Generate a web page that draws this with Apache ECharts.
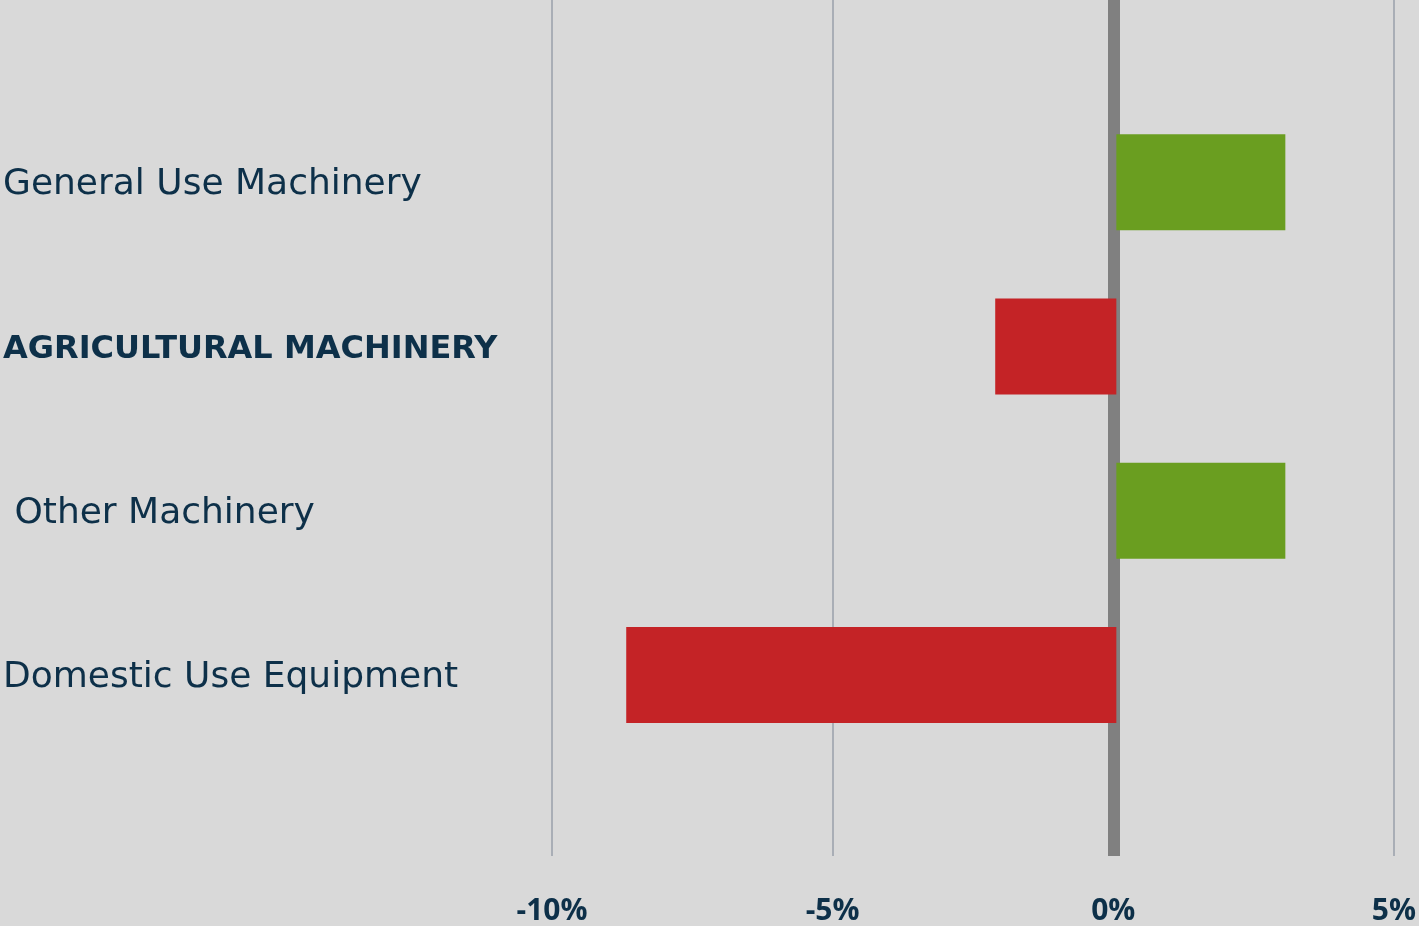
<!DOCTYPE html>
<html>
<head>
<meta charset="utf-8">
<script src="https://cdn.jsdelivr.net/npm/echarts@6/dist/echarts.min.js"></script>
<style>
html,body{margin:0;padding:0;background:#d9d9d9;}
#chart{width:1419px;height:926px;}
</style>
</head>
<body>
<div id="chart"></div>
<script>
const categories = ["General Use Machinery", "AGRICULTURAL MACHINERY", " Other Machinery", "Domestic Use Equipment"];
const boldCategory = "AGRICULTURAL MACHINERY";
const values = [3.0, -2.15, 3.0, -8.7];
const tickValues = [-10, -5, 0, 5];
const xMin = -10, xMax = 5, xInterval = 5;

const GREEN = '#6a9e20', RED = '#c42326', TEXT = '#0d3049';

const chart = echarts.init(document.getElementById('chart'));
const gridLeft = 552, gridRight = 21;
chart.setOption({
  backgroundColor: '#d9d9d9',
  animation: false,
  grid: [
    {left: gridLeft, right: gridRight, top: 0, bottom: 70},
    {left: gridLeft, right: gridRight, top: 100, height: 657}
  ],
  xAxis: [
    {gridIndex: 0, type: 'value', min: xMin, max: xMax, interval: xInterval,
     axisLine: {show: false}, axisTick: {show: false}, splitLine: {show: false},
     axisLabel: {margin: 40, color: TEXT, fontFamily: 'Open Sans', fontWeight: 'bold', fontSize: 30,
       formatter: v => v + '%'}},
    {gridIndex: 1, type: 'value', min: xMin, max: xMax, interval: xInterval, show: false}
  ],
  yAxis: [
    {gridIndex: 0, type: 'value', min: 0, max: 1, show: false},
    {gridIndex: 1, type: 'category', inverse: true, data: categories,
     axisLine: {show: false}, axisTick: {show: false}, splitLine: {show: false},
     axisLabel: {
       align: 'left', margin: gridLeft - 2, color: TEXT,
       fontFamily: 'DejaVu Sans', fontSize: 36, padding: [6, 0, 0, 0],
       formatter: v => v === boldCategory ? '{b|' + v + '}' : v,
       rich: {b: {fontFamily: 'DejaVu Sans', fontWeight: 'bold', fontSize: 32, color: TEXT}}
     }}
  ],
  series: [
    {type: 'line', xAxisIndex: 0, yAxisIndex: 0, data: [], z: 1, silent: true,
     markLine: {symbol: 'none', silent: true, label: {show: false},
       lineStyle: {color: '#808080', width: 12, type: 'solid'},
       data: [{xAxis: 0}]}},
    {type: 'bar', xAxisIndex: 1, yAxisIndex: 1, z: 5, barWidth: 96,
     data: values.map(v => ({value: v, itemStyle: {color: v >= 0 ? GREEN : RED}}))},
    {type: 'line', xAxisIndex: 0, yAxisIndex: 0, data: [], z: 10, silent: true,
     markLine: {symbol: 'none', silent: true, label: {show: false},
       lineStyle: {color: '#a9aeb6', width: 2, type: 'solid'},
       data: tickValues.filter(v => v !== 0).map(v => ({xAxis: v}))}}
  ]
});
</script>
</body>
</html>
